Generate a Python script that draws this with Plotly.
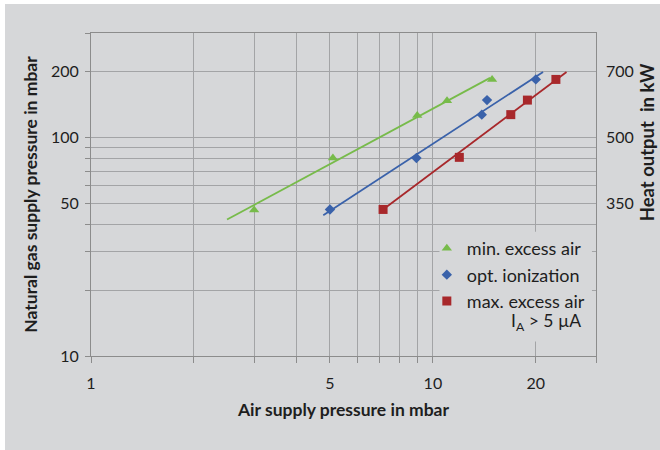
import math
import plotly.graph_objects as go

# ---------------- data ----------------
min_x = [3.0, 5.1, 9.0, 11.0, 14.9]
min_y = [46.5, 80.5, 126, 147, 184]
opt_x = [5.0, 8.95, 13.9, 14.4, 20.0]
opt_y = [46.8, 80.5, 127, 148, 184]
max_x = [7.15, 11.95, 16.9, 18.9, 22.9]
max_y = [46.8, 81, 127, 148, 184]

# trend lines (end points)
min_fit_x = [2.5, 14.7]
min_fit_y = [42.1, 187]
opt_fit_x = [4.78, 21.0]
opt_fit_y = [44.0, 199]
max_fit_x = [7.15, 24.6]
max_fit_y = [46.8, 199]

series_names = ["min. excess air", "opt. ionization", "max. excess air"]

x_grid_vals = [1, 2, 3, 4, 5, 6, 7, 8, 9, 10, 20, 30]
x_tick_text = ["1", "", "", "", "5", "", "", "", "", "10", "20", ""]
y_grid_vals = [10, 20, 30, 40, 50, 60, 70, 80, 90, 100, 200, 300]
y_tick_text = ["10", "", "", "", "50", "", "", "", "", "100", "200", ""]
heat_tick_pos = [50, 100, 200]
heat_tick_text = ["350", "500", "700"]

# ---------------- styling ----------------
BG = "#d6d7d9"
GRID = "#a3a4a6"
GREEN = "#77bb4a"
BLUE = "#3a62aa"
RED = "#a8282b"
FONT = "Lato"
TXT = "#1e1e1e"

fig = go.Figure()

for fx, fy, col in [(min_fit_x, min_fit_y, GREEN), (opt_fit_x, opt_fit_y, BLUE), (max_fit_x, max_fit_y, RED)]:
    fig.add_trace(go.Scatter(x=fx, y=fy, mode="lines", line=dict(color=col, width=1.8),
                             showlegend=False, hoverinfo="skip"))

fig.add_trace(go.Scatter(x=min_x, y=min_y, mode="markers", name=series_names[0], legendgroup="a",
                         marker=dict(symbol="triangle-up", size=9, color=GREEN)))
fig.add_trace(go.Scatter(x=opt_x, y=opt_y, mode="markers", name=series_names[1], legendgroup="b",
                         marker=dict(symbol="diamond", size=8, color=BLUE)))
fig.add_trace(go.Scatter(x=max_x, y=max_y, mode="markers", name=series_names[2], legendgroup="c",
                         marker=dict(symbol="square", size=9, color=RED)))

# dummy trace to activate the right axis
fig.add_trace(go.Scatter(x=[None], y=[None], yaxis="y2", showlegend=False, hoverinfo="skip"))

xr = [math.log10(1), math.log10(30)]
yr = [math.log10(10), math.log10(300)]

fig.update_layout(
    width=655, height=446,
    margin=dict(l=86, r=64, t=29, b=94),
    paper_bgcolor=BG, plot_bgcolor=BG,
    font=dict(family=FONT, color=TXT, size=16),
    xaxis=dict(type="log", range=xr, tickvals=x_grid_vals, ticktext=x_tick_text,
               showgrid=True, gridcolor=GRID, gridwidth=1,
               showline=True, linecolor="#8c8c8c", linewidth=1, mirror=True,
               ticks="outside", ticklen=6, tickcolor="#8c8c8c", ticklabelstandoff=7,
               zeroline=False, automargin=False,
               title=dict(text="<b>Air supply pressure in mbar</b>", font=dict(size=17.5, color=TXT),
                          standoff=12)),
    yaxis=dict(type="log", range=yr, tickvals=y_grid_vals, ticktext=y_tick_text,
               showgrid=True, gridcolor=GRID, gridwidth=1,
               showline=True, linecolor="#8c8c8c", linewidth=1, mirror=True,
               ticks="outside", ticklen=5, tickcolor="#8c8c8c", ticklabelstandoff=3,
               zeroline=False, automargin=False,
               title=dict(text="<b>Natural gas supply pressure in mbar</b>", font=dict(size=17.5, color=TXT),
                          standoff=8)),
    yaxis2=dict(type="log", range=yr, overlaying="y", side="right",
                tickvals=heat_tick_pos, ticktext=heat_tick_text, automargin=False,
                showgrid=False, ticks="", ticklabelstandoff=9, showline=False, zeroline=False),
    legend=dict(x=0.665, y=0.39, xanchor="left", yanchor="top",
                bgcolor="rgba(0,0,0,0)", font=dict(size=18, color=TXT),
                traceorder="grouped", tracegroupgap=0),
    shapes=[dict(type="rect", xref="paper", yref="paper", x0=0.69, x1=0.992, y0=0.045, y1=0.385,
                 fillcolor=BG, line=dict(width=0), layer="above")],
    annotations=[
        dict(text="<b>Heat output  in kW</b>", xref="paper", yref="paper",
             x=1.1, y=0.66, textangle=-90, showarrow=False, font=dict(size=18.5, color=TXT),
             xanchor="center", yanchor="middle"),
        dict(text="I<sub>A</sub> > 5 µA", xref="paper", yref="paper",
             x=0.9, y=0.105, showarrow=False, font=dict(size=17.5, color=TXT),
             xanchor="center", yanchor="middle"),
    ],
)

fig.write_html("out.html", post_script="document.body.style.margin='4px 0 0 5px';")
